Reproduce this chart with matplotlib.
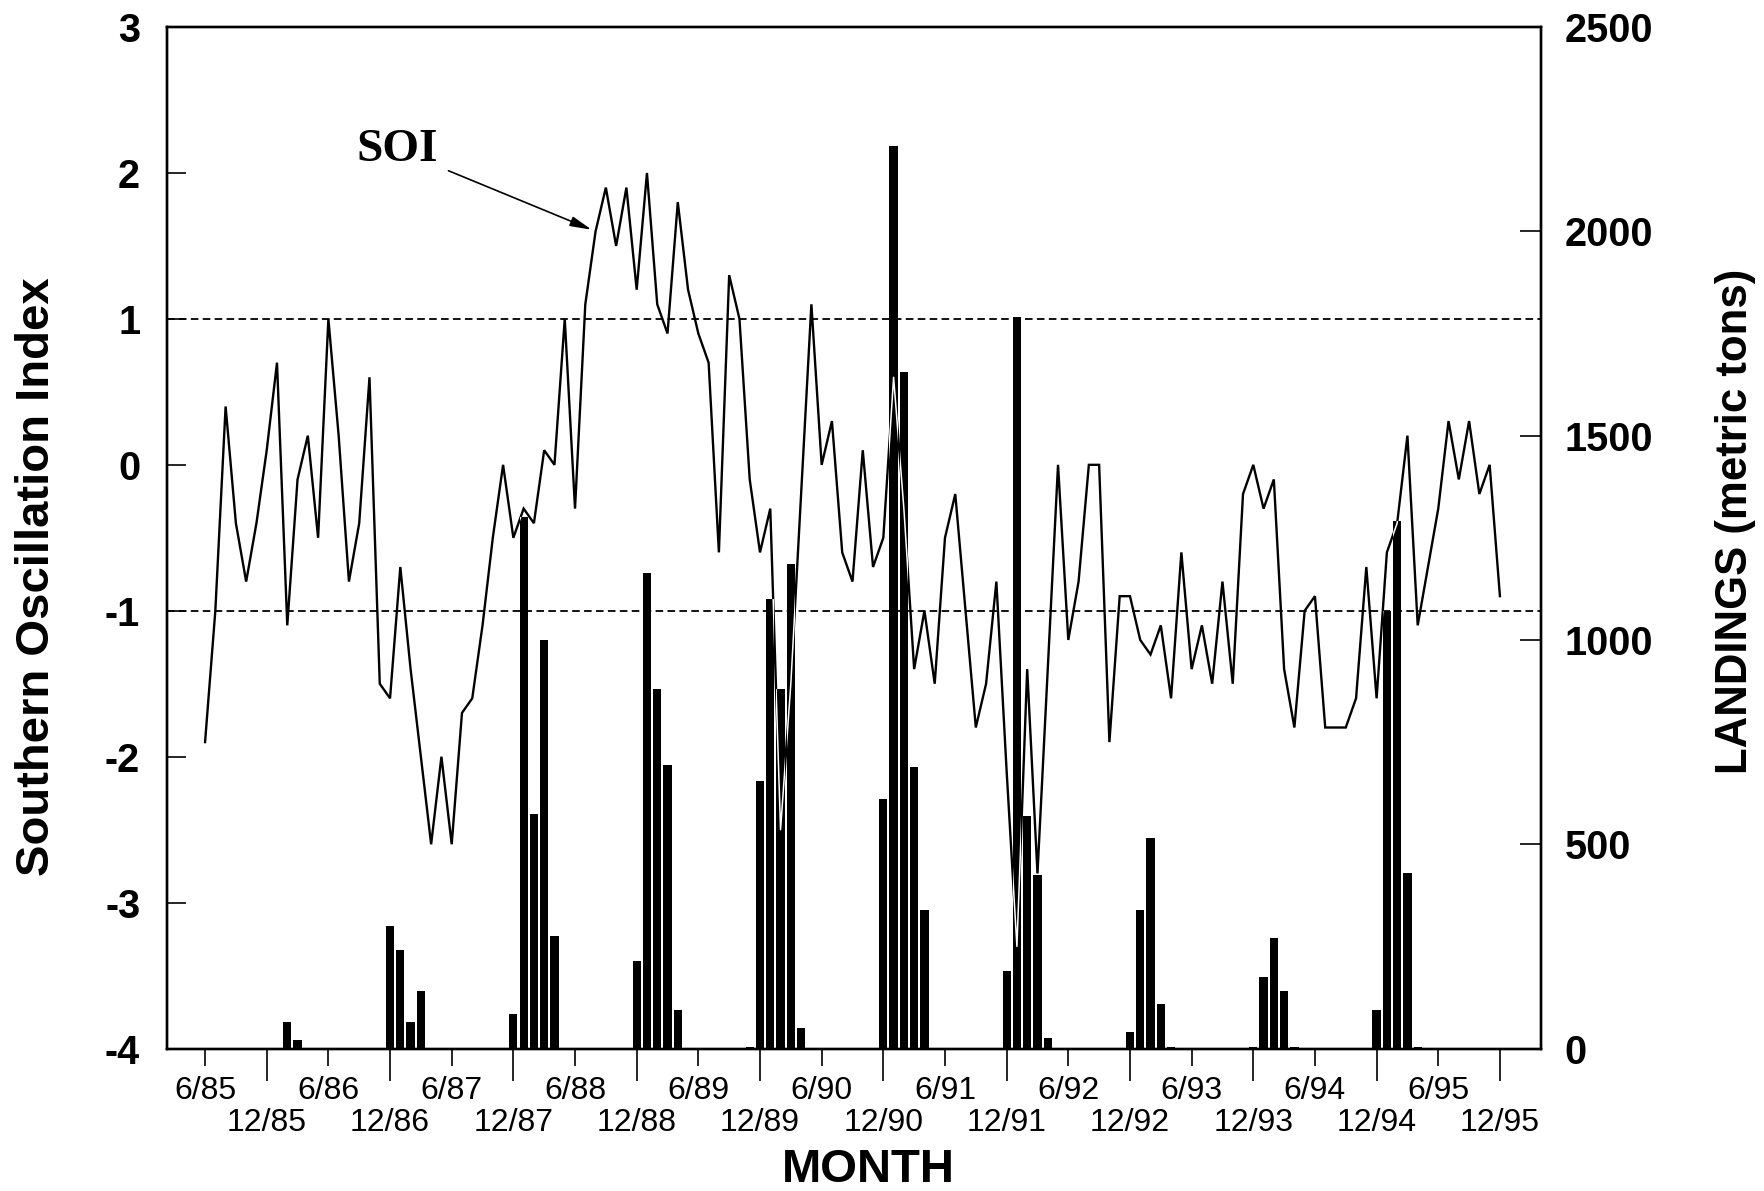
import matplotlib
matplotlib.use("Agg")
import matplotlib.pyplot as plt

plt.rcParams["font.family"] = ["Liberation Sans", "DejaVu Sans"]
plt.rcParams["axes.unicode_minus"] = False

# monthly Southern Oscillation Index, first value is 6/85
soi_start = "6/85"
soi = [
    -1.9, -1.0, 0.4, -0.4, -0.8, -0.4, 0.1, 0.7, -1.1, -0.1,
    0.2, -0.5, 1.0, 0.2, -0.8, -0.4, 0.6, -1.5, -1.6, -0.7,
    -1.4, -2.0, -2.6, -2.0, -2.6, -1.7, -1.6, -1.1, -0.5, 0.0,
    -0.5, -0.3, -0.4, 0.1, 0.0, 1.0, -0.3, 1.1, 1.6, 1.9,
    1.5, 1.9, 1.2, 2.0, 1.1, 0.9, 1.8, 1.2, 0.9, 0.7,
    -0.6, 1.3, 1.0, -0.1, -0.6, -0.3, -2.5, -1.5, -0.2, 1.1,
    0.0, 0.3, -0.6, -0.8, 0.1, -0.7, -0.5, 0.6, -0.3, -1.4,
    -1.0, -1.5, -0.5, -0.2, -1.0, -1.8, -1.5, -0.8, -2.1, -3.3,
    -1.4, -2.8, -1.4, 0.0, -1.2, -0.8, 0.0, 0.0, -1.9, -0.9,
    -0.9, -1.2, -1.3, -1.1, -1.6, -0.6, -1.4, -1.1, -1.5, -0.8,
    -1.5, -0.2, 0.0, -0.3, -0.1, -1.4, -1.8, -1.0, -0.9, -1.8,
    -1.8, -1.8, -1.6, -0.7, -1.6, -0.6, -0.4, 0.2, -1.1, -0.7,
    -0.3, 0.3, -0.1, 0.3, -0.2, 0.0, -0.9,
]

# monthly landings in metric tons (months not listed had none)
landing_months = [
    "2/86", "3/86",
    "12/86", "1/87", "2/87", "3/87",
    "12/87", "1/88", "2/88", "3/88", "4/88",
    "12/88", "1/89", "2/89", "3/89", "4/89",
    "11/89", "12/89", "1/90", "2/90", "3/90", "4/90",
    "12/90", "1/91", "2/91", "3/91", "4/91",
    "12/91", "1/92", "2/92", "3/92", "4/92",
    "12/92", "1/93", "2/93", "3/93", "4/93",
    "12/93", "1/94", "2/94", "3/94", "4/94",
    "12/94", "1/95", "2/95", "3/95", "4/95",
]
landings = [
    65, 20,
    300, 240, 65, 140,
    85, 1300, 575, 1000, 275,
    215, 1165, 880, 695, 95,
    5, 655, 1100, 880, 1185, 50,
    610, 2210, 1655, 690, 340,
    190, 1790, 570, 425, 25,
    40, 340, 515, 110, 5,
    5, 175, 270, 140, 5,
    95, 1070, 1290, 430, 5,
]

june_labels = ["6/85", "6/86", "6/87", "6/88", "6/89", "6/90",
               "6/91", "6/92", "6/93", "6/94", "6/95"]
dec_labels = ["12/85", "12/86", "12/87", "12/88", "12/89", "12/90",
              "12/91", "12/92", "12/93", "12/94", "12/95"]


def month_index(label):
    """Months since 1/85 for a 'm/yy' label."""
    m, y = label.split("/")
    return (int(y) - 85) * 12 + int(m) - 1


start = month_index(soi_start)
soi_x = [start + i for i in range(len(soi))]
bar_x = [month_index(s) for s in landing_months]

fig = plt.figure(figsize=(17.64, 11.91), dpi=100)
ax = fig.add_axes([0.0944, 0.1196, 0.7792, 0.8577])
ax2 = ax.twinx()

# landings bars on the right axis, drawn underneath the SOI line
bars = ax2.bar(bar_x, landings, width=0.8, color="black", linewidth=0)
ax2.set_ylim(0, 2500)
ax2.set_yticks(range(0, 2501, 500))
ax.set_zorder(ax2.get_zorder() + 1)
ax.patch.set_visible(False)

# SOI line, +/-1 reference lines
ax.axhline(1, color="black", lw=1.3, ls=(0, (4.2, 2.4)))
ax.axhline(-1, color="black", lw=1.3, ls=(0, (4.2, 2.4)))
ax.plot(soi_x, soi, color="black", lw=1.7, solid_joinstyle="miter")
# where the line runs over a bar it shows up white
for rect in bars:
    seg, = ax.plot(soi_x, soi, color="white", lw=1.1)
    seg.set_clip_path(rect)

ax.set_ylim(-4, 3)
ax.set_yticks(range(-4, 4))
ax.set_xlim(1.25, 135.0)

ax.set_xticks([month_index(s) for s in dec_labels], dec_labels)
ax.set_xticks([month_index(s) for s in june_labels], june_labels, minor=True)
ax.tick_params(axis="x", which="major", direction="out", length=23,
               width=1.2, pad=20, labelsize=23)
ax.tick_params(axis="x", which="minor", direction="out", length=12,
               width=1.2, pad=8, labelsize=23)
ax.tick_params(axis="y", direction="in", length=14, width=1.2, pad=19,
               labelsize=28.5)
ax2.tick_params(axis="y", direction="in", length=15, width=1.2, pad=17,
                labelsize=28.5)
for lab in ax.get_yticklabels() + ax2.get_yticklabels():
    lab.set_fontweight("bold")

for a in (ax, ax2):
    for sp in a.spines.values():
        sp.set_linewidth(1.7)

ax.annotate("SOI", xy=(soi_x[38], soi[38]), xytext=(23.7, 2.16),
            fontsize=34, fontweight="bold", family="Liberation Serif",
            ha="center", va="center",
            arrowprops=dict(arrowstyle="-|>,head_length=0.65,head_width=0.15",
                            mutation_scale=20, lw=1.2, color="black",
                            shrinkA=6, shrinkB=3))

fig.text(37 / 1764, 1 - 577 / 1191, "Southern Oscillation Index",
         rotation=90, ha="center", va="center", fontsize=34,
         fontweight="bold")
fig.text(1736 / 1764, 1 - 521 / 1191, "LANDINGS (metric tons)",
         rotation=90, ha="center", va="center", fontsize=31.5,
         fontweight="bold")
fig.text(868 / 1764, 1 - 1170 / 1191, "MONTH", ha="center", va="center",
         fontsize=34, fontweight="bold")

fig.savefig("out.png", dpi=100)
